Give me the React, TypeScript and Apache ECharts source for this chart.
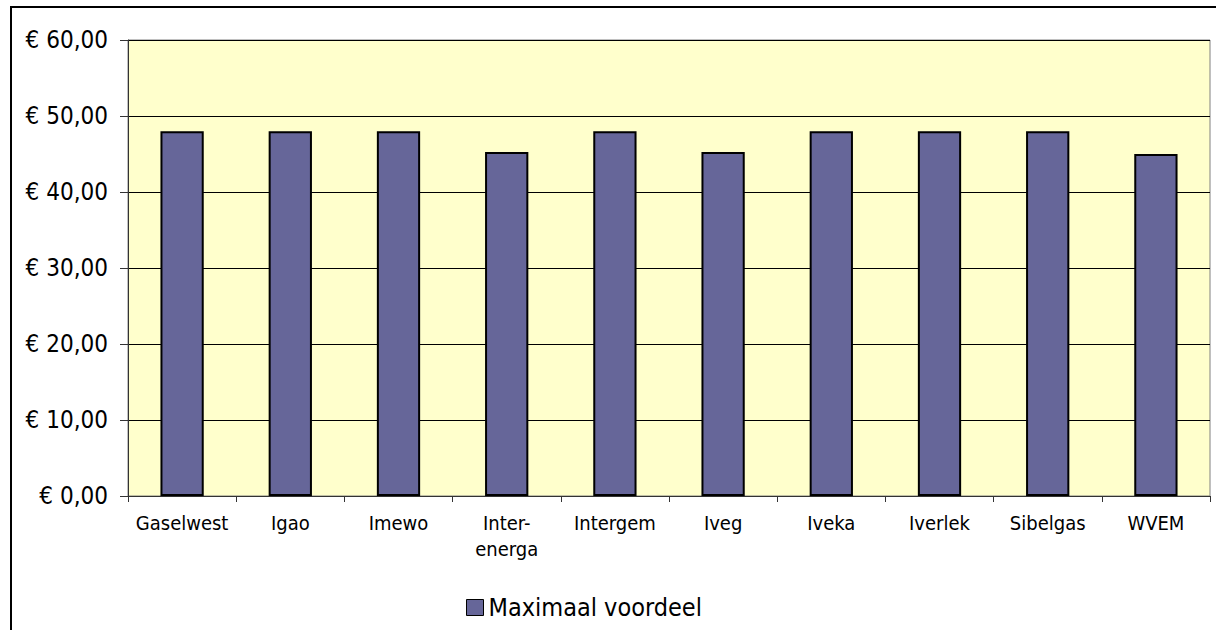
import React, { useEffect, useRef } from "react";
import * as echarts from "echarts";

const categories = ["Gaselwest", "Igao", "Imewo", "Inter-\nenerga", "Intergem", "Iveg", "Iveka", "Iverlek", "Sibelgas", "WVEM"];
const maximaalVoordeel = [48.0, 48.0, 48.0, 45.25, 48.0, 45.25, 48.0, 48.0, 48.0, 45.0];
const seriesName = "Maximaal voordeel";
const yMin = 0;
const yMax = 60;
const yStep = 10;

const FONT = "'DejaVu Sans Condensed', 'DejaVu Sans', sans-serif";

export default function App() {
  const ref = useRef<HTMLDivElement>(null);
  useEffect(() => {
    if (!ref.current) return;
    const chart = echarts.init(ref.current, undefined, { renderer: "svg" });
    chart.setOption({
      animation: false,
      backgroundColor: "#ffffff",
      grid: {
        left: 128,
        right: 6,
        top: 40,
        bottom: 134,
        show: true,
        backgroundColor: "#FFFFCC",
        borderColor: "#808080",
        borderWidth: 1,
      },
      graphic: [
        {
          type: "rect",
          shape: { x: 11, y: 7, width: 2000, height: 2000 },
          style: { fill: "none", stroke: "#000000", lineWidth: 2 },
          silent: true,
          z: 100,
        },
      ],
      legend: {
        left: 461,
        top: 590,
        icon: "rect",
        itemWidth: 17,
        itemHeight: 16,
        itemGap: 10,
        itemStyle: { borderColor: "#000000", borderWidth: 1 },
        textStyle: { fontFamily: FONT, fontSize: 25, color: "#000000" },
        data: [seriesName],
      },
      xAxis: {
        type: "category",
        data: categories,
        axisLine: { show: true, lineStyle: { color: "#333333", width: 1 } },
        axisTick: { show: true, length: 6, inside: false, alignWithLabel: false, lineStyle: { color: "#333333" } },
        axisLabel: {
          fontFamily: FONT,
          fontSize: 20,
          color: "#000000",
          margin: 14,
          lineHeight: 26,
          interval: 0,
        },
        splitLine: { show: false },
      },
      yAxis: {
        type: "value",
        min: yMin,
        max: yMax,
        interval: yStep,
        axisLine: { show: true, lineStyle: { color: "#333333", width: 1 } },
        axisTick: { show: true, length: 8, lineStyle: { color: "#333333" } },
        axisLabel: {
          fontFamily: FONT,
          fontSize: 24,
          color: "#000000",
          margin: 20,
          formatter: (v: number) => "€ " + v.toFixed(2).replace(".", ","),
        },
        splitLine: { show: true, lineStyle: { color: "#000000", width: 1 } },
      },
      series: [
        {
          name: seriesName,
          type: "bar",
          data: maximaalVoordeel,
          barWidth: "40%",
          itemStyle: { color: "#666699", borderColor: "#000000", borderWidth: 2 },
        },
      ],
    });
    return () => chart.dispose();
  }, []);
  return (
    <div
      ref={ref}
      style={{ position: "absolute", left: 0, top: 0, width: 1216, height: 630 }}
    />
  );
}
